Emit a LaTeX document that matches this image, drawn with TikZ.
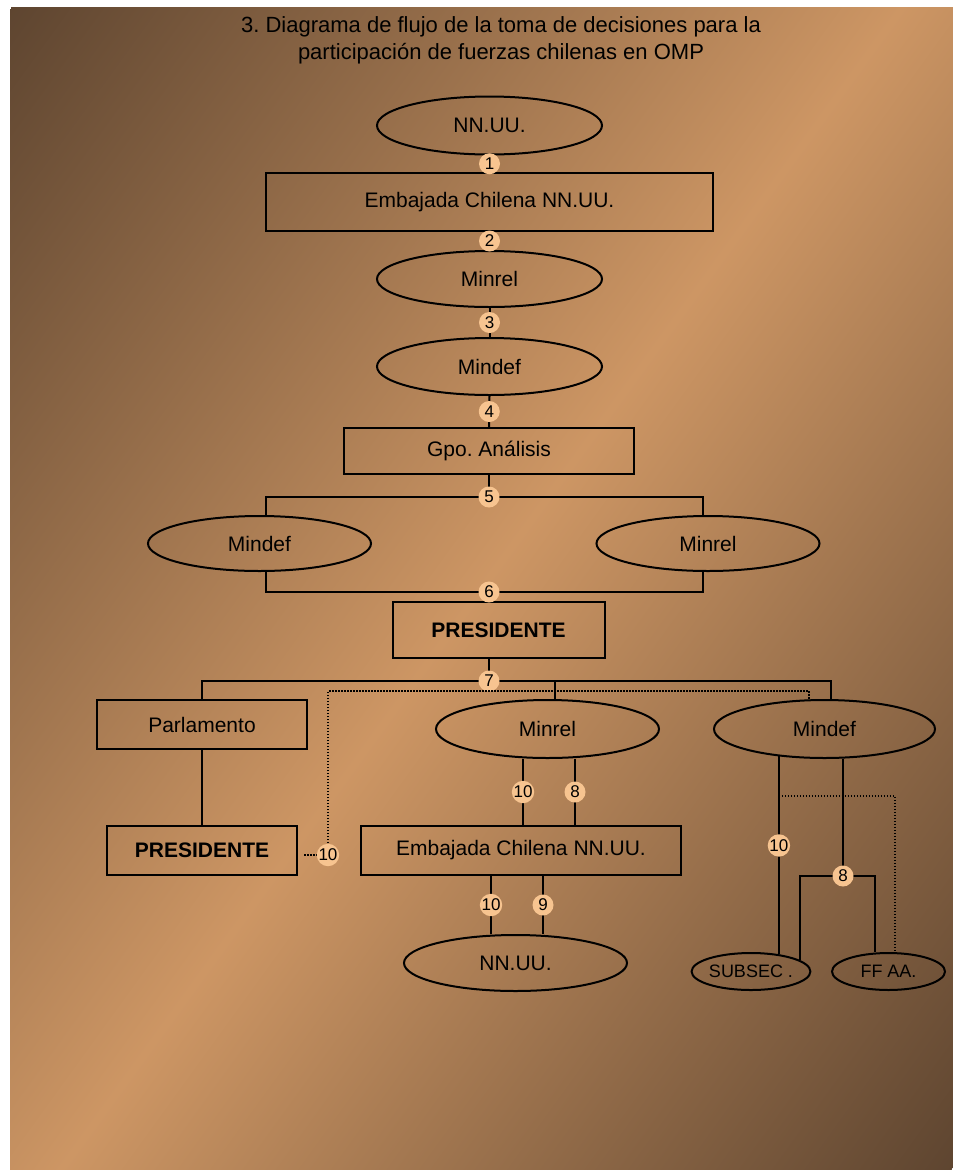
\documentclass[tikz,border=0pt]{standalone}
\usepackage{fontspec}
\setmainfont{Liberation Sans}
\usetikzlibrary{shapes.geometric}
\definecolor{bgdark}{HTML}{5E4530}
\definecolor{bglight}{HTML}{CD9664}
\definecolor{peach}{HTML}{F7C490}
\pgfdeclarehorizontalshading{bgshade}{1500pt}{color(0pt)=(bgdark); color(722pt)=(bglight); color(1444pt)=(bgdark)}
\begin{document}
\frenchspacing
\begin{tikzpicture}[x=1pt,y=-1pt,
  lbl/.style={font=\fontsize{21}{25}\selectfont},
  oval/.style={ellipse, draw, line width=2pt, inner sep=0pt, lbl},
  boxx/.style={rectangle, draw, line width=2pt, inner sep=0pt, lbl},
  small/.style={font=\fontsize{18}{21}\selectfont},
  num/.style={circle, fill=peach, inner sep=0pt, minimum size=21pt, font=\fontsize{17}{17}\selectfont},
  conn/.style={line width=2pt},
  dots/.style={line width=1.5pt, dash pattern=on 1.5pt off 1.5pt}]
% background
\useasboundingbox (0,0) rectangle (953,1171);
\fill[white] (0,0) rectangle (953,1171);
\begin{scope}
  \clip (10,7) rectangle (953,1169);
  \node[inner sep=0pt, outer sep=0pt, rotate=-35.9] (bg) at (481.5,588) {\pgfuseshading{bgshade}};
\end{scope}
% title
\node[font=\fontsize{22}{27}\selectfont, align=center] (title) at (501,40.5)
  {3. Diagrama de flujo de la toma de decisiones para la\\participación de fuerzas chilenas en OMP};
% nodes
\node[oval, minimum width=225pt, minimum height=58pt] (nnuu1) at (489.5,125.5) {NN.UU.};
\node[boxx, minimum width=447pt, minimum height=58pt] (emb1) at (489.5,202) {Embajada Chilena NN.UU.};
\node[oval, minimum width=225pt, minimum height=56pt] (minrel1) at (489.5,279) {Minrel};
\node[oval, minimum width=225pt, minimum height=57pt] (mindef1) at (489.5,366.5) {Mindef};
\node[boxx, minimum width=290pt, minimum height=46pt] (gpo) at (489,451) {Gpo. Análisis};
\node[oval, minimum width=223pt, minimum height=55pt] (mindefL) at (259.5,543.5) {Mindef};
\node[oval, minimum width=223pt, minimum height=55pt] (minrelR) at (708,543.5) {Minrel};
\node[boxx, minimum width=212pt, minimum height=56pt, font=\fontsize{21}{25}\selectfont\bfseries] (pres1) at (498.5,630) {PRESIDENTE};
\node[boxx, minimum width=210pt, minimum height=49pt] (parl) at (202,724.5) {Parlamento};
\node[boxx, minimum width=190pt, minimum height=49pt, font=\fontsize{21}{25}\selectfont\bfseries] (pres2) at (202,850.5) {PRESIDENTE};
\node[oval, minimum width=223pt, minimum height=58pt] (minrelB) at (547.5,729) {Minrel};
\node[boxx, minimum width=320pt, minimum height=49pt] (emb2) at (521,850.5) {Embajada Chilena NN.UU.};
\node[oval, minimum width=223pt, minimum height=56pt] (nnuu2) at (515.5,963) {NN.UU.};
\node[oval, minimum width=221pt, minimum height=58pt] (mindefB) at (824.5,729) {Mindef};
\node[oval, small, minimum width=116pt, minimum height=37pt] (subsec) at (751,971.5) {SUBSEC .};
\node[oval, small, minimum width=113pt, minimum height=37pt] (ffaa) at (888.5,971.5) {FF AA.};
% junctions
\coordinate (j5) at (489,497);
\coordinate (j6) at (489,592);
\coordinate (j7) at (489,681);
\coordinate (d10) at (328,855);
\coordinate (dtop) at (809,691);
\coordinate (j8) at (843,876);
\coordinate (d8) at (895,796);
% top chain
\draw[conn] (nnuu1.south) -- (emb1.north) node[num, midway] {1};
\draw[conn] (emb1.south) -- (minrel1.north) node[num, midway] {2};
\draw[conn] (minrel1.south) -- (mindef1.north) node[num, midway] {3};
\draw[conn] (mindef1.south) -- (gpo.north) node[num, midway] {4};
% bracket 5
\draw[conn] (gpo.south) -- (j5);
\draw[conn] ([xshift=6.5pt]mindefL.north) |- (j5) -| ([xshift=-5pt]minrelR.north);
\node[num] at (j5) {5};
% bracket 6
\draw[conn] ([xshift=6.5pt]mindefL.south) |- (j6) -| ([xshift=-5pt]minrelR.south);
\draw[conn] (j6) -- (j6 |- pres1.north);
\node[num] at (j6) {6};
% bracket 7
\draw[conn] (j7 |- pres1.south) -- (j7);
\draw[conn] (parl.north) |- (j7) -| ([xshift=6.5pt]mindefB.north);
\draw[conn] ([xshift=7.5pt]minrelB.north |- j7) -- ([xshift=7.5pt]minrelB.north);
\node[num] at (j7) {7};
% parlamento
\draw[conn] (parl.south) -- (pres2.north);
% dotted 10 (left)
\draw[dots] (d10) |- (dtop) -- (dtop |- mindefB.north);
\path (d10 -| pres2.east) ++(6,0) coordinate (d10s);
\draw[dots] (d10s) -- (d10);
\node[num] at (d10) {10};
% minrel -> embajada
\draw[conn] ([xshift=-24.5pt]minrelB.south) -- ([xshift=-24.5pt]minrelB.south |- emb2.north) node[num, midway] {10};
\draw[conn] ([xshift=27.5pt]minrelB.south) -- ([xshift=27.5pt]minrelB.south |- emb2.north) node[num, midway] {8};
% embajada -> nn.uu.
\draw[conn] ([xshift=-30pt]emb2.south) -- ([xshift=-30pt]emb2.south |- nnuu2.north) node[num, midway] {10};
\draw[conn] ([xshift=22pt]emb2.south) -- ([xshift=22pt]emb2.south |- nnuu2.north) node[num, midway] {9};
% mindef -> subsec / ff aa
\draw[dots] (d8 -| mindefB.211) -- (d8) -- (d8 |- ffaa.north);
\draw[conn] (mindefB.211) -- (mindefB.211 |- subsec.31) node[num, pos=0.45] {10};
\draw[conn] ([xshift=18.5pt]mindefB.south) -- (j8);
\draw[conn] (subsec.13) |- (j8) -| ([xshift=-13.5pt]ffaa.north);
\node[num] at (j8) {8};
\end{tikzpicture}
\end{document}
